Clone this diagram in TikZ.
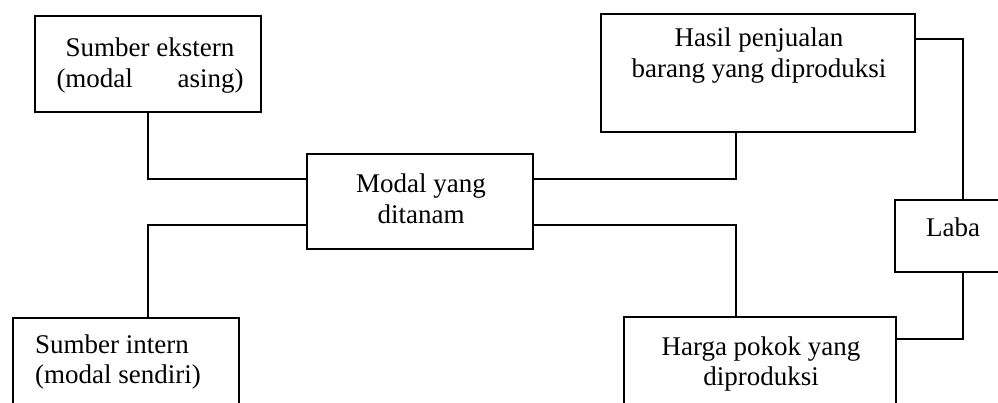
\documentclass[tikz,border=0pt]{standalone}
\usepackage{fontspec}
\setmainfont{Liberation Serif}
\newcommand{\twoC}[2]{\begin{tabular}[t]{@{}c@{}}#1\\#2\end{tabular}}
\newcommand{\twoL}[2]{\begin{tabular}[t]{@{}l@{}}#1\\#2\end{tabular}}
\begin{document}
\begin{tikzpicture}[x=1pt,y=-1pt,
  box/.style={draw, line width=1.8pt, inner sep=0pt, anchor=north west},
  txt/.style={anchor=base, inner sep=0pt, font=\fontsize{27}{30.5}\selectfont},
  conn/.style={line width=1.8pt}]
\useasboundingbox (0,0) rectangle (998,403);
% boxes
\node[box, minimum width=226pt, minimum height=96pt] (ekst) at (34,15) {};
\node[box, minimum width=226pt, minimum height=95pt] (modal) at (306,153) {};
\node[box, minimum width=314pt, minimum height=118pt] (hasil) at (600,13) {};
\node[box, minimum width=226pt, minimum height=103pt] (intern) at (12,317) {};
\node[box, minimum width=272pt, minimum height=104pt] (harga) at (623,316) {};
\node[box, minimum width=116pt, minimum height=72pt] (laba) at (894,199) {};
% texts
\node[txt] (ekstT) at (150,57) {\twoC{Sumber ekstern}{\makebox[187pt]{(modal\hfill asing)}}};
\node[txt] (modalT) at (421,193) {\twoC{Modal yang}{ditanam}};
\node[txt] (hasilT) at (759,47) {\twoC{Hasil penjualan}{barang yang diproduksi}};
\node[txt, anchor=base west] (internT) at (35,353) {\twoL{Sumber intern}{(modal sendiri)}};
\node[txt] (hargaT) at (761,355) {\twoC{Harga pokok yang}{diproduksi}};
\node[txt] (labaT) at (953,237) {Laba};
% connectors
\draw[conn] (ekst.south) |- ([yshift=22.5pt]modal.west);
\draw[conn] ([xshift=22pt]intern.north) |- ([yshift=-23.5pt]modal.west);
\draw[conn] ([yshift=22.5pt]modal.east) -| ([xshift=-22pt]hasil.south);
\draw[conn] ([yshift=-23.5pt]modal.east) -| ([xshift=-24pt]harga.north);
\draw[conn] ([yshift=34pt]hasil.east) -| ([xshift=10pt]laba.north);
\draw[conn] ([xshift=10pt]laba.south) |- ([yshift=30pt]harga.east);
\end{tikzpicture}
\end{document}
